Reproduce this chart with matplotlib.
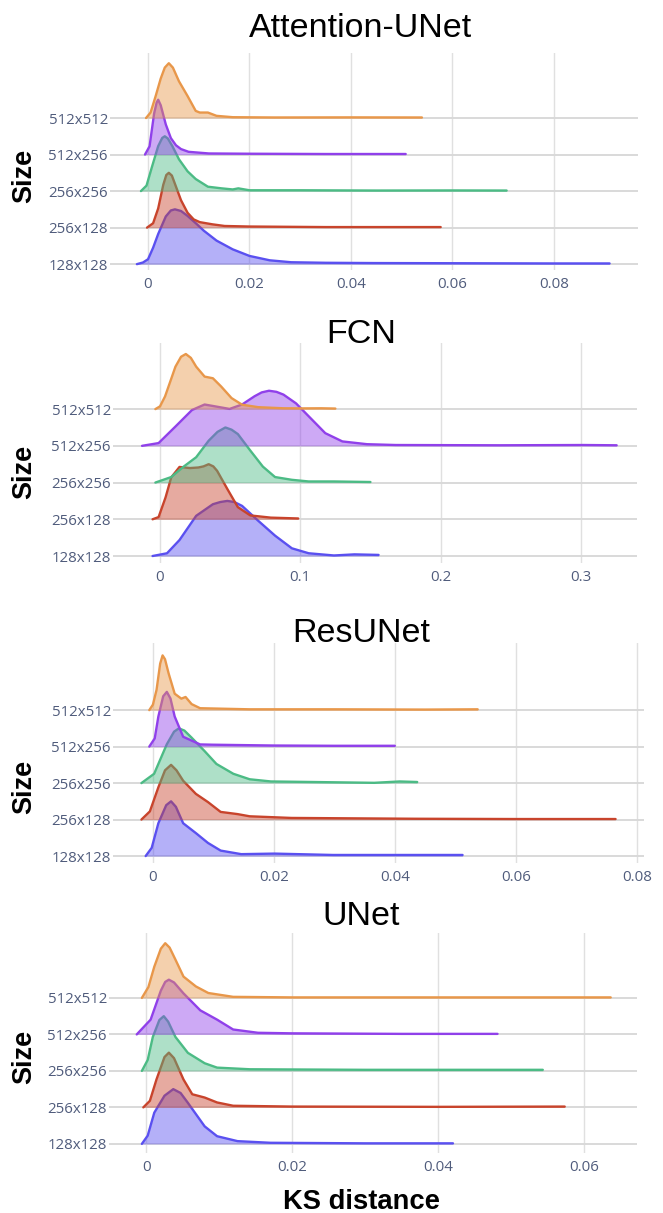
import matplotlib.pyplot as plt

# ------------------ DATE ------------------
sizes = ["128x128", "256x128", "256x256", "512x256", "512x512"]
colors = ["#5A50F0", "#C8442C", "#4CBB85", "#9040EA", "#E8974A"]
models = ["Attention-UNet", "FCN", "ResUNet", "UNet"]

# KS distance -> relative density (peak = 1), one ridge per image size
attention_unet = {
    "512x512": ([-0.0004, 0.0005, 0.0015, 0.0025, 0.0033, 0.0041, 0.0049, 0.0061, 0.0078, 0.0094, 0.0102, 0.0118, 0.0135, 0.0167, 0.025, 0.04, 0.054],
                [0, 0.1, 0.4, 0.72, 0.92, 1.0, 0.92, 0.67, 0.4, 0.13, 0.1, 0.1, 0.04, 0.015, 0.01, 0.012, 0.01]),
    "512x256": ([-0.0006, 0.0003, 0.0012, 0.0017, 0.002, 0.0025, 0.0035, 0.0045, 0.0055, 0.0065, 0.008, 0.012, 0.02, 0.035, 0.0508],
                [0, 0.15, 0.75, 0.95, 1.0, 0.9, 0.55, 0.3, 0.17, 0.1, 0.05, 0.02, 0.015, 0.01, 0.01]),
    "256x256": ([-0.0014, -0.0003, 0.0008, 0.002, 0.0028, 0.0033, 0.0039, 0.0048, 0.0061, 0.0078, 0.0094, 0.0118, 0.0145, 0.0167, 0.0178, 0.02, 0.03, 0.045, 0.06, 0.0707],
                [0, 0.1, 0.45, 0.82, 0.97, 1.0, 0.96, 0.82, 0.58, 0.36, 0.22, 0.08, 0.05, 0.03, 0.05, 0.015, 0.015, 0.01, 0.012, 0.01]),
    "256x128": ([-0.0002, 0.001, 0.002, 0.003, 0.0036, 0.0041, 0.0047, 0.0055, 0.0065, 0.0078, 0.009, 0.0102, 0.0127, 0.0151, 0.02, 0.035, 0.0577],
                [0, 0.08, 0.35, 0.78, 0.96, 1.0, 0.95, 0.75, 0.5, 0.27, 0.15, 0.1, 0.06, 0.03, 0.02, 0.01, 0.01]),
    "128x128": ([-0.0022, -0.001, 0.0, 0.001, 0.002, 0.0035, 0.0045, 0.0053, 0.0065, 0.0078, 0.0095, 0.011, 0.0135, 0.0167, 0.02, 0.024, 0.0282, 0.035, 0.0445, 0.06, 0.08, 0.091],
                [0, 0.03, 0.09, 0.3, 0.55, 0.87, 0.98, 1.0, 0.97, 0.88, 0.74, 0.61, 0.43, 0.27, 0.15, 0.07, 0.035, 0.025, 0.02, 0.017, 0.013, 0.013]),
}

fcn = {
    "512x512": ([-0.0033, 0.0, 0.0036, 0.008, 0.011, 0.015, 0.0184, 0.022, 0.0258, 0.0318, 0.0377, 0.0436, 0.051, 0.0585, 0.07, 0.088, 0.1, 0.115, 0.125],
                [0, 0.05, 0.23, 0.55, 0.77, 0.95, 1.0, 0.93, 0.77, 0.59, 0.56, 0.41, 0.2, 0.08, 0.035, 0.015, 0.013, 0.015, 0.01]),
    "512x256": ([-0.0128, -0.001, 0.011, 0.0228, 0.0318, 0.0407, 0.0496, 0.0585, 0.0674, 0.0725, 0.0777, 0.083, 0.088, 0.097, 0.1074, 0.1178, 0.13, 0.1475, 0.168, 0.242, 0.302, 0.3255],
                [0, 0.05, 0.35, 0.65, 0.75, 0.71, 0.67, 0.75, 0.9, 0.97, 1.0, 0.98, 0.93, 0.77, 0.5, 0.23, 0.08, 0.03, 0.015, 0.01, 0.015, 0.01]),
    "256x256": ([-0.0033, 0.008, 0.0169, 0.0258, 0.0347, 0.041, 0.0466, 0.051, 0.0555, 0.0644, 0.0733, 0.082, 0.094, 0.106, 0.124, 0.15],
                [0, 0.1, 0.29, 0.46, 0.76, 0.92, 1.0, 0.96, 0.88, 0.58, 0.29, 0.1, 0.05, 0.02, 0.02, 0.01]),
    "256x128": ([-0.0053, -0.001, 0.004, 0.008, 0.0139, 0.0214, 0.0273, 0.031, 0.0347, 0.038, 0.0407, 0.048, 0.0555, 0.0644, 0.079, 0.0985],
                [0, 0.04, 0.4, 0.76, 0.95, 0.93, 0.94, 0.96, 1.0, 0.96, 0.88, 0.55, 0.22, 0.07, 0.03, 0.015]),
    "128x128": ([-0.0053, 0.005, 0.0139, 0.0258, 0.0377, 0.043, 0.048, 0.053, 0.0585, 0.07, 0.082, 0.094, 0.106, 0.124, 0.1386, 0.1558],
                [0, 0.05, 0.29, 0.73, 0.94, 0.98, 1.0, 0.98, 0.91, 0.64, 0.37, 0.14, 0.05, 0.01, 0.03, 0.02]),
}

resunet = {
    "512x512": ([-0.0006, 0.0, 0.0006, 0.0012, 0.0016, 0.002, 0.0026, 0.0036, 0.0047, 0.0054, 0.0064, 0.0078, 0.016, 0.03, 0.045, 0.0537],
                [0, 0.1, 0.37, 0.85, 1.0, 0.93, 0.67, 0.3, 0.21, 0.24, 0.11, 0.035, 0.015, 0.015, 0.01, 0.015]),
    "512x256": ([-0.0006, 0.0003, 0.0009, 0.0017, 0.0023, 0.0029, 0.0036, 0.005, 0.0078, 0.0098, 0.02, 0.03, 0.04],
                [0, 0.15, 0.55, 0.92, 1.0, 0.88, 0.55, 0.18, 0.04, 0.035, 0.02, 0.015, 0.015]),
    "256x256": ([-0.0019, 0.0002, 0.0023, 0.0035, 0.0043, 0.0052, 0.0064, 0.0085, 0.0105, 0.0133, 0.016, 0.0195, 0.0298, 0.0366, 0.0408, 0.0437],
                [0, 0.17, 0.71, 0.94, 1.0, 0.96, 0.83, 0.59, 0.35, 0.17, 0.07, 0.03, 0.015, 0.005, 0.03, 0.02]),
    "256x128": ([-0.0019, -0.0005, 0.0009, 0.002, 0.003, 0.0039, 0.005, 0.0071, 0.0091, 0.0112, 0.014, 0.016, 0.0229, 0.0435, 0.06, 0.0765],
                [0, 0.15, 0.59, 0.9, 1.0, 0.9, 0.71, 0.47, 0.32, 0.14, 0.1, 0.06, 0.03, 0.015, 0.01, 0.01]),
    "128x128": ([-0.0012, -0.0002, 0.0009, 0.0022, 0.003, 0.0038, 0.005, 0.0071, 0.0091, 0.0112, 0.0146, 0.0201, 0.0298, 0.04, 0.0512],
                [0, 0.15, 0.6, 0.93, 1.0, 0.9, 0.6, 0.42, 0.24, 0.1, 0.035, 0.045, 0.02, 0.02, 0.02]),
}

unet = {
    "512x512": ([-0.0006, 0.0003, 0.0011, 0.002, 0.0026, 0.0032, 0.004, 0.0051, 0.0068, 0.0085, 0.0119, 0.02, 0.04, 0.0636],
                [0, 0.2, 0.57, 0.9, 1.0, 0.92, 0.7, 0.39, 0.21, 0.09, 0.02, 0.01, 0.01, 0.01]),
    "512x256": ([-0.0013, 0.0006, 0.002, 0.0026, 0.0031, 0.0038, 0.0051, 0.0074, 0.0097, 0.0119, 0.0153, 0.0199, 0.035, 0.0481],
                [0, 0.27, 0.8, 0.96, 1.0, 0.95, 0.75, 0.44, 0.27, 0.09, 0.03, 0.02, 0.01, 0.01]),
    "256x256": ([-0.0006, 0.0002, 0.0009, 0.0018, 0.0024, 0.003, 0.004, 0.0057, 0.008, 0.0097, 0.0142, 0.03, 0.0543],
                [0, 0.2, 0.62, 0.93, 1.0, 0.9, 0.62, 0.33, 0.14, 0.06, 0.03, 0.02, 0.02]),
    "256x128": ([-0.0004, 0.0005, 0.0014, 0.0025, 0.0031, 0.0038, 0.0051, 0.0063, 0.008, 0.0097, 0.0119, 0.02, 0.04, 0.0573],
                [0, 0.12, 0.51, 0.92, 1.0, 0.9, 0.51, 0.24, 0.18, 0.09, 0.03, 0.015, 0.01, 0.015]),
    "128x128": ([-0.0006, 0.0002, 0.0011, 0.0025, 0.0037, 0.0047, 0.0057, 0.008, 0.0097, 0.0125, 0.017, 0.03, 0.042],
                [0, 0.15, 0.57, 0.88, 1.0, 0.93, 0.75, 0.32, 0.14, 0.05, 0.02, 0.01, 0.01]),
}

xticks = [
    [0, 0.02, 0.04, 0.06, 0.08],
    [0, 0.1, 0.2, 0.3],
    [0, 0.02, 0.04, 0.06, 0.08],
    [0, 0.02, 0.04, 0.06],
]

# ------------------ LAYOUT ------------------
W, H = 663, 1213
RIDGE = 1.5  # peak height, in rows

# pixel boxes (left, right, top, bottom), x limits, y limits
boxes = [(110, 638, 53, 270), (113, 637, 343, 563), (113, 644, 643, 863), (109, 637, 933, 1153)]
xlims = [(-0.0075, 0.0966), (-0.0335, 0.340), (-0.0066, 0.0812), (-0.0051, 0.0672)]
ylims = [(-0.16, 5.78), (-0.19, 5.80), (-0.19, 5.84), (-0.25, 5.78)]
title_base = [37, 343, 642, 925]
size_y = [176, 472, 787, 1057]
tick_color = "#505c7c"

plt.rcParams['font.family'] = ['Liberation Sans', 'DejaVu Sans']

fig = plt.figure(figsize=(W / 100, H / 100), dpi=100)
fig.patch.set_facecolor("white")

data = [attention_unet, fcn, resunet, unet]

for k, model in enumerate(data):
    l, r, t, b = boxes[k]
    ax = fig.add_axes([l / W, 1 - b / H, (r - l) / W, (b - t) / H])

    for i, size in enumerate(sizes):
        xs, ds = model[size]
        ys = [i + RIDGE * d for d in ds]
        ax.fill_between(xs, i, ys, color=colors[i], alpha=0.45, lw=0, zorder=2 + i)
        ax.plot(xs, ys, color=colors[i], lw=1.7, solid_joinstyle="round",
                solid_capstyle="round", zorder=2 + i)

    ax.set_xlim(*xlims[k])
    ax.set_ylim(*ylims[k])
    ax.set_yticks(range(len(sizes)))
    ax.set_yticklabels(sizes, family="Open Sans", fontsize=10.8, color=tick_color)
    ax.set_xticks(xticks[k])
    ax.set_xticklabels([f"{v:g}" for v in xticks[k]], family="Open Sans", fontsize=10.8, color=tick_color)
    ax.tick_params(axis="both", length=0)
    ax.tick_params(axis="y", pad=1.5)
    ax.tick_params(axis="x", pad=5)
    ax.grid(axis="x", color="#e0e0e0", lw=1)
    ax.grid(axis="y", color="#d9d9d9", lw=1.4)
    ax.set_axisbelow(True)
    for s in ax.spines.values():
        s.set_visible(False)

    fig.text(361 / W, 1 - title_base[k] / H, models[k], ha="center", va="baseline", fontsize=24.5, color="black")
    fig.text(24 / W, 1 - size_y[k] / H, "Size", rotation=90, ha="center", va="center",
             fontsize=19.5, fontweight="bold", color="black")

fig.text(361 / W, 1 - 1209 / H, "KS distance", ha="center", va="baseline", fontsize=19.7,
         fontweight="bold", color="black")

fig.savefig("out.png", dpi=100)
